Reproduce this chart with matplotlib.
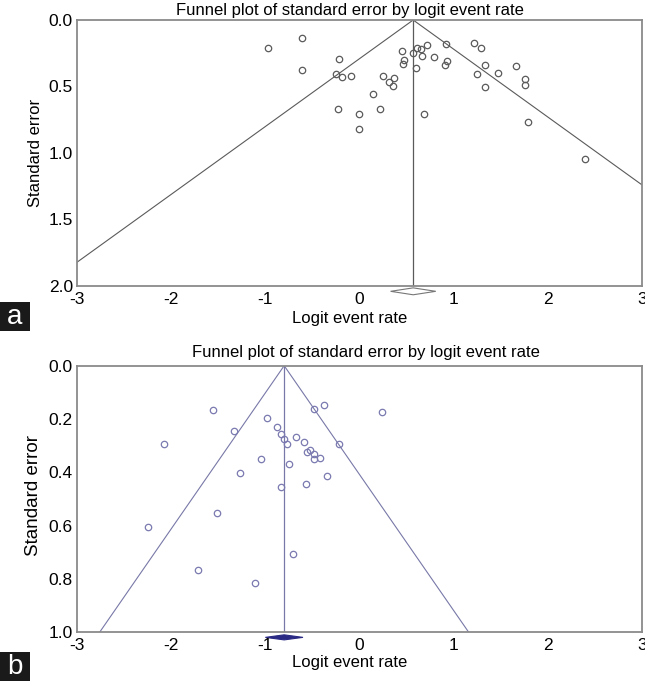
import matplotlib
matplotlib.use("Agg")
import matplotlib.pyplot as plt
from matplotlib.patches import Rectangle
import numpy as np

plt.rcParams['font.family'] = ['Liberation Sans', 'DejaVu Sans']

title = "Funnel plot of standard error by logit event rate"
xlabel = "Logit event rate"
ylabel = "Standard error"

# Panel a
a_x = [-0.97, -0.615, -0.61, -0.219, -0.254, -0.187, -0.095, -0.229, -0.006, -0.006,
       0.142, 0.216, 0.252, 0.312, 0.362, 0.351, 0.45, 0.468, 0.464, 0.563,
       0.609, 0.652, 0.712, 0.662, 0.599, 0.687, 0.787, 0.921, 0.924, 0.906,
       1.218, 1.285, 1.335, 1.246, 1.328, 1.469, 1.664, 1.76, 1.753, 1.788, 2.393]
a_se = [0.21, 0.133, 0.376, 0.296, 0.406, 0.429, 0.421, 0.669, 0.707, 0.817,
        0.556, 0.669, 0.423, 0.464, 0.436, 0.494, 0.231, 0.301, 0.331, 0.246,
        0.211, 0.22, 0.188, 0.271, 0.361, 0.707, 0.278, 0.178, 0.306, 0.341,
        0.171, 0.211, 0.341, 0.404, 0.504, 0.396, 0.346, 0.441, 0.486, 0.765, 1.043]
a_mean = 0.57
a_ci = (0.33, 0.81)
a_yticks = [0.0, 0.5, 1.0, 1.5, 2.0]

# Panel b
b_x = [-1.553, -2.08, -1.337, -0.98, -0.877, -0.834, -0.806, -0.767, -0.675, -0.594,
       -0.53, -0.558, -0.48, -0.487, -0.42, -0.484, -0.381, -0.35, -1.047, -1.27,
       -0.749, -0.838, -0.569, -1.517, -2.25, -1.716, -1.11, -0.707, 0.234, -0.219]
b_se = [0.166, 0.295, 0.245, 0.196, 0.230, 0.256, 0.276, 0.295, 0.269, 0.287,
        0.315, 0.325, 0.331, 0.351, 0.345, 0.164, 0.146, 0.412, 0.351, 0.402,
        0.367, 0.454, 0.444, 0.552, 0.606, 0.767, 0.816, 0.706, 0.172, 0.295]
b_mean = -0.80
b_ci = (-1.0, -0.6)
b_yticks = [0.0, 0.2, 0.4, 0.6, 0.8, 1.0]

xticks = [-3, -2, -1, 0, 1, 2, 3]

W, H = 645, 681
fig = plt.figure(figsize=(W/100, H/100), dpi=100)

def fx(px):
    return px / W

def fy(py):
    return 1 - py / H

def panel(top, bottom, xs, ses, mean, ci, yticks, ymax, lc, mc, dface, dedge, dy, dh,
          letter, box_top, box_bot, title_xy, xlabel_xy, ylabel_xy, ylabel_size):
    ax = fig.add_axes([fx(77), fy(bottom), fx(642 - 77), (bottom - top) / H])
    ax.set_xlim(-3, 3)
    ax.set_ylim(ymax, 0)
    se_line = np.array([0, ymax * 1.2])
    ax.plot([mean, mean], [0, ymax], color=lc, lw=0.9)
    ax.plot(mean - 1.96 * se_line, se_line, color=lc, lw=0.8)
    ax.plot(mean + 1.96 * se_line, se_line, color=lc, lw=0.8)
    ax.plot(xs, ses, 'o', ms=4.6, mfc='none', mec=mc, mew=0.9, clip_on=False)
    dx = [ci[0], mean, ci[1], mean, ci[0]]
    dys = [dy, dy - dh, dy, dy + dh, dy]
    ax.fill(dx, dys, facecolor=dface, edgecolor=dedge, lw=0.8, clip_on=False)
    ax.set_xticks(xticks)
    ax.set_xticklabels([str(t) for t in xticks])
    ax.set_yticks(yticks)
    ax.set_yticklabels(["%.1f" % t for t in yticks])
    ax.tick_params(axis='x', length=0, labelsize=12.5, pad=4)
    ax.tick_params(axis='y', length=0, labelsize=12.5, pad=3)
    for s in ax.spines.values():
        s.set_color('#8a8a8a')
        s.set_linewidth(1.3)
    fig.text(fx(title_xy[0]), fy(title_xy[1]), title, fontsize=12, ha='center', va='center')
    fig.text(fx(xlabel_xy[0]), fy(xlabel_xy[1]), xlabel, fontsize=12, ha='center', va='center')
    fig.text(fx(ylabel_xy[0]), fy(ylabel_xy[1]), ylabel, fontsize=ylabel_size,
             rotation=90, ha='center', va='center')
    fig.add_artist(Rectangle((0, fy(box_bot)), fx(30), (box_bot - box_top) / H,
                             transform=fig.transFigure, facecolor='#1a1a1a', edgecolor='none'))
    fig.text(fx(15), fy((box_top + box_bot) / 2 + 1), letter, fontsize=20, color='white',
             ha='center', va='center')
    return ax

panel(20, 286, a_x, a_se, a_mean, a_ci, a_yticks, 2.0,
      '#5a5a5a', '#5a5a5a', 'white', '#777777', 2.04, 0.026,
      'a', 302, 331, (350, 10), (350, 318), (35, 153), 12)
panel(365.7, 632.3, b_x, b_se, b_mean, b_ci, b_yticks, 1.0,
      '#7878a8', '#7a7ab0', '#2a2a85', '#2a2a85', 1.019, 0.0095,
      'b', 652, 681, (366, 353), (350, 663), (34, 495), 13.5)

fig.savefig("out.png", dpi=100)
